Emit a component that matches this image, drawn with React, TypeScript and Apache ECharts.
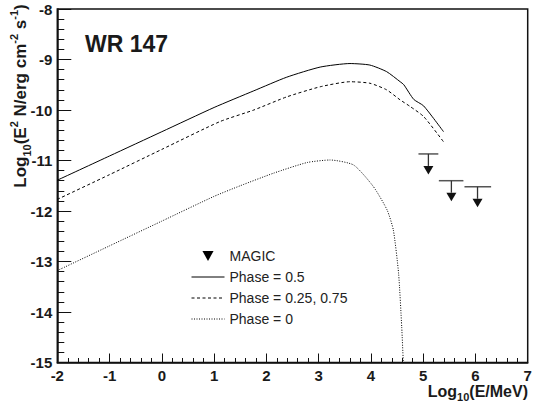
import React, { useEffect, useRef } from "react";
import * as echarts from "echarts";

// Phase = 0.5 (solid)
const solidX = [-2, -1, 0, 1, 1.76, 2.39, 3.03, 3.6, 3.98, 4.3, 4.56, 4.63, 4.82, 5.01, 5.39];
const solidY = [-11.39, -10.91, -10.43, -9.95, -9.62, -9.35, -9.15, -9.08, -9.11, -9.24, -9.44, -9.5, -9.79, -9.92, -10.43];
// Phase = 0.25, 0.75 (dashed)
const dashX = [-2, -1, 0, 1.11, 1.76, 2.39, 3.03, 3.6, 3.98, 4.3, 4.56, 4.75, 5.01, 5.39];
const dashY = [-11.77, -11.28, -10.78, -10.23, -10.0, -9.74, -9.54, -9.44, -9.47, -9.6, -9.8, -9.93, -10.13, -10.63];
// Phase = 0 (dotted)
const dotX = [-2, -1, 0, 1, 1.5, 2.14, 2.78, 3.22, 3.67, 4.05, 4.31, 4.43, 4.53, 4.59, 4.62];
const dotY = [-13.18, -12.69, -12.2, -11.71, -11.5, -11.25, -11.04, -10.99, -11.09, -11.52, -11.98, -12.38, -13.24, -14.3, -15.0];
// MAGIC upper limits
const ulE = [5.1, 5.54, 6.04];
const ulELo = [4.91, 5.3, 5.79];
const ulEHi = [5.29, 5.77, 6.3];
const ulFlux = [-10.87, -11.4, -11.52];

const names = ["MAGIC", "Phase = 0.5", "Phase = 0.25, 0.75", "Phase = 0"];
const FONT = "Liberation Sans";

const pairs = (xs: number[], ys: number[]) => xs.map((x, i) => [x, ys[i]]);

export default function App() {
  const ref = useRef<HTMLDivElement>(null);
  useEffect(() => {
    if (!ref.current) return;
    const chart = echarts.init(ref.current, null, { renderer: "svg" });
    const lineCommon = {
      type: "line",
      showSymbol: false,
      symbol: "none",
      smooth: 0.2,
      clip: true,
    };
    const axisLabel = { color: "#1a1a1a", fontFamily: FONT, fontWeight: "bold", fontSize: 15 };
    chart.setOption({
      animation: false,
      backgroundColor: "#fff",
      grid: {
        left: 57.3,
        right: 8.3,
        top: 9,
        bottom: 41.5,
        show: true,
        borderColor: "#111",
        borderWidth: 1.5,
        containLabel: false,
      },
      xAxis: {
        type: "value",
        min: -2,
        max: 7,
        interval: 1,
        splitLine: { show: false },
        axisLine: { onZero: false, lineStyle: { color: "#111", width: 1.5 } },
        axisTick: { inside: true, length: 9, lineStyle: { color: "#111" } },
        minorTick: { show: true, splitNumber: 5, length: 4.5, lineStyle: { color: "#111" } },
        axisLabel: { ...axisLabel, margin: 5 },
      },
      yAxis: {
        type: "value",
        min: -15,
        max: -8,
        interval: 1,
        splitLine: { show: false },
        axisLine: { show: true, onZero: false, lineStyle: { color: "#111", width: 1.5 } },
        axisTick: { show: true, inside: true, length: 14, lineStyle: { color: "#111" } },
        minorTick: { show: true, splitNumber: 5, length: 7, lineStyle: { color: "#111" } },
        axisLabel: { ...axisLabel, margin: 5 },
      },
      legend: {
        data: [
          { name: names[0], icon: "path://M0,0 L10,0 L5,9 Z", itemStyle: { opacity: 1, color: "#000" } },
          { name: names[1] },
          { name: names[2] },
          { name: names[3] },
        ],
        orient: "vertical",
        left: 186,
        top: 244,
        itemWidth: 33,
        itemHeight: 10,
        itemGap: 7,
        itemStyle: { opacity: 0 },
        lineStyle: { width: 1 },
        textStyle: { fontFamily: FONT, fontSize: 14, color: "#222", lineHeight: 14 },
      },
      series: [
        {
          name: names[0],
          type: "custom",
          itemStyle: { color: "#000" },
          encode: { x: [0, 2, 3], y: 1 },
          data: ulE.map((e, i) => [e, ulFlux[i], ulELo[i], ulEHi[i]]),
          renderItem: (params: any, api: any) => {
            const c = api.coord([api.value(0), api.value(1)]);
            const lo = api.coord([api.value(2), api.value(1)]);
            const hi = api.coord([api.value(3), api.value(1)]);
            const x = c[0];
            const y = c[1];
            return {
              type: "group",
              children: [
                {
                  type: "line",
                  shape: { x1: lo[0], y1: y, x2: hi[0], y2: y },
                  style: { stroke: "#555", lineWidth: 1.5 },
                },
                {
                  type: "line",
                  shape: { x1: x, y1: y, x2: x, y2: y + 12 },
                  style: { stroke: "#333", lineWidth: 1.3 },
                },
                {
                  type: "polygon",
                  shape: { points: [[x - 5, y + 12], [x + 5, y + 12], [x, y + 20.5]] },
                  style: { fill: "#111" },
                },
              ],
            };
          },
        },
        {
          ...lineCommon,
          name: names[1],
          data: pairs(solidX, solidY),
          lineStyle: { color: "#000", width: 1, type: "solid" },
          itemStyle: { color: "#000" },
        },
        {
          ...lineCommon,
          name: names[2],
          data: pairs(dashX, dashY),
          lineStyle: { color: "#000", width: 1, type: [3, 2.5] },
          itemStyle: { color: "#000" },
        },
        {
          ...lineCommon,
          name: names[3],
          data: pairs(dotX, dotY),
          lineStyle: { color: "#000", width: 1, type: [1, 1.5] },
          itemStyle: { color: "#000" },
        },
      ],
      graphic: [
        {
          type: "text",
          left: 85,
          top: 32,
          style: { text: "WR 147", font: `bold 23px "${FONT}"`, fill: "#1a1a1a" },
        },
        {
          type: "text",
          x: 20,
          y: 96,
          rotation: Math.PI / 2,
          style: {
            text: "Log{sub|10}(E{sup|2} N/erg cm{sup|-2} s{sup|-1})",
            fontFamily: FONT,
            fontWeight: "bold",
            fontSize: 17,
            lineHeight: 24,
            fill: "#1a1a1a",
            align: "center",
            verticalAlign: "middle",
            textAlign: "center",
            textVerticalAlign: "middle",
            rich: {
              sub: { fontFamily: FONT, fontWeight: "bold", fontSize: 11, lineHeight: 12, verticalAlign: "bottom", fill: "#1a1a1a" },
              sup: { fontFamily: FONT, fontWeight: "bold", fontSize: 11, lineHeight: 12, verticalAlign: "top", fill: "#1a1a1a" },
            },
          },
        },
        {
          type: "text",
          x: 528,
          y: 391,
          style: {
            text: "Log{sub|10}(E/MeV)",
            fontFamily: FONT,
            fontWeight: "bold",
            fontSize: 16,
            lineHeight: 22,
            fill: "#1a1a1a",
            align: "right",
            verticalAlign: "middle",
            textAlign: "right",
            textVerticalAlign: "middle",
            rich: {
              sub: { fontFamily: FONT, fontWeight: "bold", fontSize: 11, lineHeight: 12, verticalAlign: "bottom", fill: "#1a1a1a" },
            },
          },
        },
      ],
    });
    return () => chart.dispose();
  }, []);
  return (
    <div
      ref={ref}
      style={{ position: "fixed", left: 0, top: 0, width: 536, height: 404, background: "#fff" }}
    />
  );
}
